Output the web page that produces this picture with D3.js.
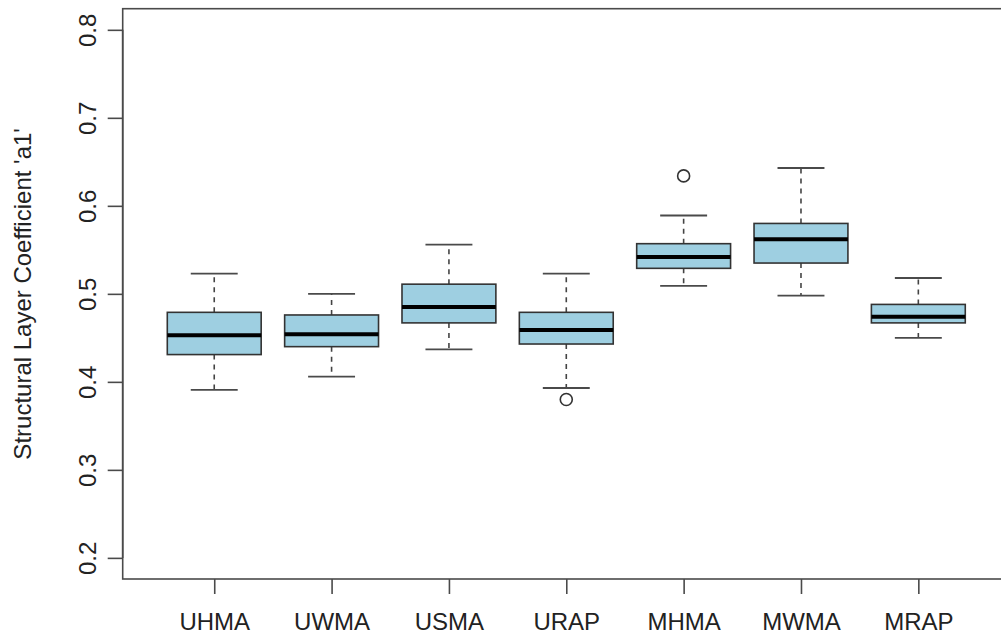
<!DOCTYPE html>
<html>
<head>
<meta charset="utf-8">
<script src="https://cdn.jsdelivr.net/npm/d3@7"></script>
<style>
  html, body { margin: 0; padding: 0; background: #fff; }
  svg { display: block; }
  text { font-family: "Liberation Sans", Arial, sans-serif; fill: #222; }
</style>
</head>
<body>
<script>
// Five-number summaries of the structural layer coefficient per mix type
const categories   = ["UHMA", "UWMA", "USMA", "URAP", "MHMA", "MWMA", "MRAP"];
const upperWhisker = [0.523, 0.500, 0.556, 0.523, 0.589, 0.643, 0.518];
const upperQuart   = [0.479, 0.476, 0.511, 0.479, 0.557, 0.580, 0.488];
const medians      = [0.453, 0.454, 0.485, 0.459, 0.542, 0.562, 0.474];
const lowerQuart   = [0.431, 0.440, 0.467, 0.443, 0.529, 0.535, 0.467];
const lowerWhisker = [0.391, 0.406, 0.437, 0.393, 0.509, 0.498, 0.450];

// Points beyond the whiskers
const outlierCategories = ["URAP", "MHMA"];
const outlierValues     = [0.380, 0.634];

const yTicks = [0.2, 0.3, 0.4, 0.5, 0.6, 0.7, 0.8];
const yLabel = "Structural Layer Coefficient 'a1'";

const W = 1001, H = 638;
const plot = { left: 122.7, top: 8.7, bottom: 579 };
const fontSize = 24;

const svg = d3.select("body").append("svg")
  .attr("width", W).attr("height", H);

// Group positions 1..n with the usual 4% padding around 0.5..n+0.5
const x = d3.scaleLinear()
  .domain([0.22, categories.length + 0.78])
  .range([plot.left, plot.left + 117.35 * (categories.length + 0.56)]);
const y = d3.scaleLinear()
  .domain([0.176, 0.824])
  .range([plot.bottom, plot.top]);

const xPos = c => x(categories.indexOf(c) + 1);
const boxHalf = 0.4;   // box width 0.8 group units
const capHalf = 0.2;   // whisker caps at half the box width

// Plot frame
svg.append("rect")
  .attr("x", x.range()[0]).attr("y", plot.top)
  .attr("width", x.range()[1] - x.range()[0])
  .attr("height", plot.bottom - plot.top)
  .attr("fill", "none").attr("stroke", "#4a4a4a").attr("stroke-width", 1.6);

// Y axis
const yAxis = svg.append("g")
  .attr("transform", `translate(${plot.left},0)`)
  .call(d3.axisLeft(y).tickValues(yTicks).tickSize(15).tickFormat(d3.format(".1f")));
yAxis.select(".domain")
  .attr("d", `M-0,${y(yTicks[0])}V${y(yTicks[yTicks.length - 1])}`)
  .attr("stroke", "#4a4a4a").attr("stroke-width", 1.6);
yAxis.selectAll(".tick line").attr("stroke", "#4a4a4a").attr("stroke-width", 1.6);
yAxis.selectAll(".tick text")
  .attr("x", null).attr("dy", null)
  .attr("transform", "translate(-35,0) rotate(-90)")
  .attr("text-anchor", "middle")
  .attr("dominant-baseline", "central")
  .style("font-size", fontSize + "px")
  .style("font-family", "'Liberation Sans', Arial, sans-serif")
  .attr("fill", "#222");

// X axis
const xAxis = svg.append("g")
  .attr("transform", `translate(0,${plot.bottom})`)
  .call(d3.axisBottom(x).tickValues(d3.range(1, categories.length + 1)).tickSize(15)
    .tickFormat(i => categories[i - 1]));
xAxis.select(".domain").remove();
xAxis.selectAll(".tick line").attr("stroke", "#4a4a4a").attr("stroke-width", 1.6);
xAxis.selectAll(".tick text")
  .attr("y", 43).attr("dy", "0.35em")
  .style("font-size", fontSize + "px")
  .style("font-family", "'Liberation Sans', Arial, sans-serif")
  .attr("fill", "#222");

// Y axis title
svg.append("text")
  .attr("transform", `translate(22,${(plot.top + plot.bottom) / 2}) rotate(-90)`)
  .attr("text-anchor", "middle")
  .attr("dominant-baseline", "central")
  .style("font-size", fontSize + "px")
  .text(yLabel);

// Boxes
const boxes = svg.append("g").selectAll("g")
  .data(categories.map((c, i) => ({
    c, hi: upperWhisker[i], q3: upperQuart[i], med: medians[i], q1: lowerQuart[i], lo: lowerWhisker[i]
  })))
  .join("g");

// dashed whiskers
boxes.append("line")
  .attr("x1", d => xPos(d.c)).attr("x2", d => xPos(d.c))
  .attr("y1", d => y(d.q3)).attr("y2", d => y(d.hi))
  .attr("stroke", "#444").attr("stroke-width", 1.6).attr("stroke-dasharray", "5,5");
boxes.append("line")
  .attr("x1", d => xPos(d.c)).attr("x2", d => xPos(d.c))
  .attr("y1", d => y(d.q1)).attr("y2", d => y(d.lo))
  .attr("stroke", "#444").attr("stroke-width", 1.6).attr("stroke-dasharray", "5,5");

// caps
const capW = x(1 + capHalf) - x(1);
boxes.append("line")
  .attr("x1", d => xPos(d.c) - capW).attr("x2", d => xPos(d.c) + capW)
  .attr("y1", d => y(d.hi)).attr("y2", d => y(d.hi))
  .attr("stroke", "#4a4a4a").attr("stroke-width", 1.8);
boxes.append("line")
  .attr("x1", d => xPos(d.c) - capW).attr("x2", d => xPos(d.c) + capW)
  .attr("y1", d => y(d.lo)).attr("y2", d => y(d.lo))
  .attr("stroke", "#4a4a4a").attr("stroke-width", 1.8);

// box body
const boxW = x(1 + boxHalf) - x(1);
boxes.append("rect")
  .attr("x", d => xPos(d.c) - boxW).attr("width", 2 * boxW)
  .attr("y", d => y(d.q3)).attr("height", d => y(d.q1) - y(d.q3))
  .attr("fill", "#9ecfe1").attr("stroke", "#333").attr("stroke-width", 1.6);

// median
boxes.append("line")
  .attr("x1", d => xPos(d.c) - boxW).attr("x2", d => xPos(d.c) + boxW)
  .attr("y1", d => y(d.med)).attr("y2", d => y(d.med))
  .attr("stroke", "#000").attr("stroke-width", 4);

// outliers
svg.append("g").selectAll("circle")
  .data(outlierCategories.map((c, i) => ({ c, v: outlierValues[i] })))
  .join("circle")
  .attr("cx", d => xPos(d.c)).attr("cy", d => y(d.v))
  .attr("r", 6)
  .attr("fill", "none").attr("stroke", "#333").attr("stroke-width", 1.6);
</script>
</body>
</html>
